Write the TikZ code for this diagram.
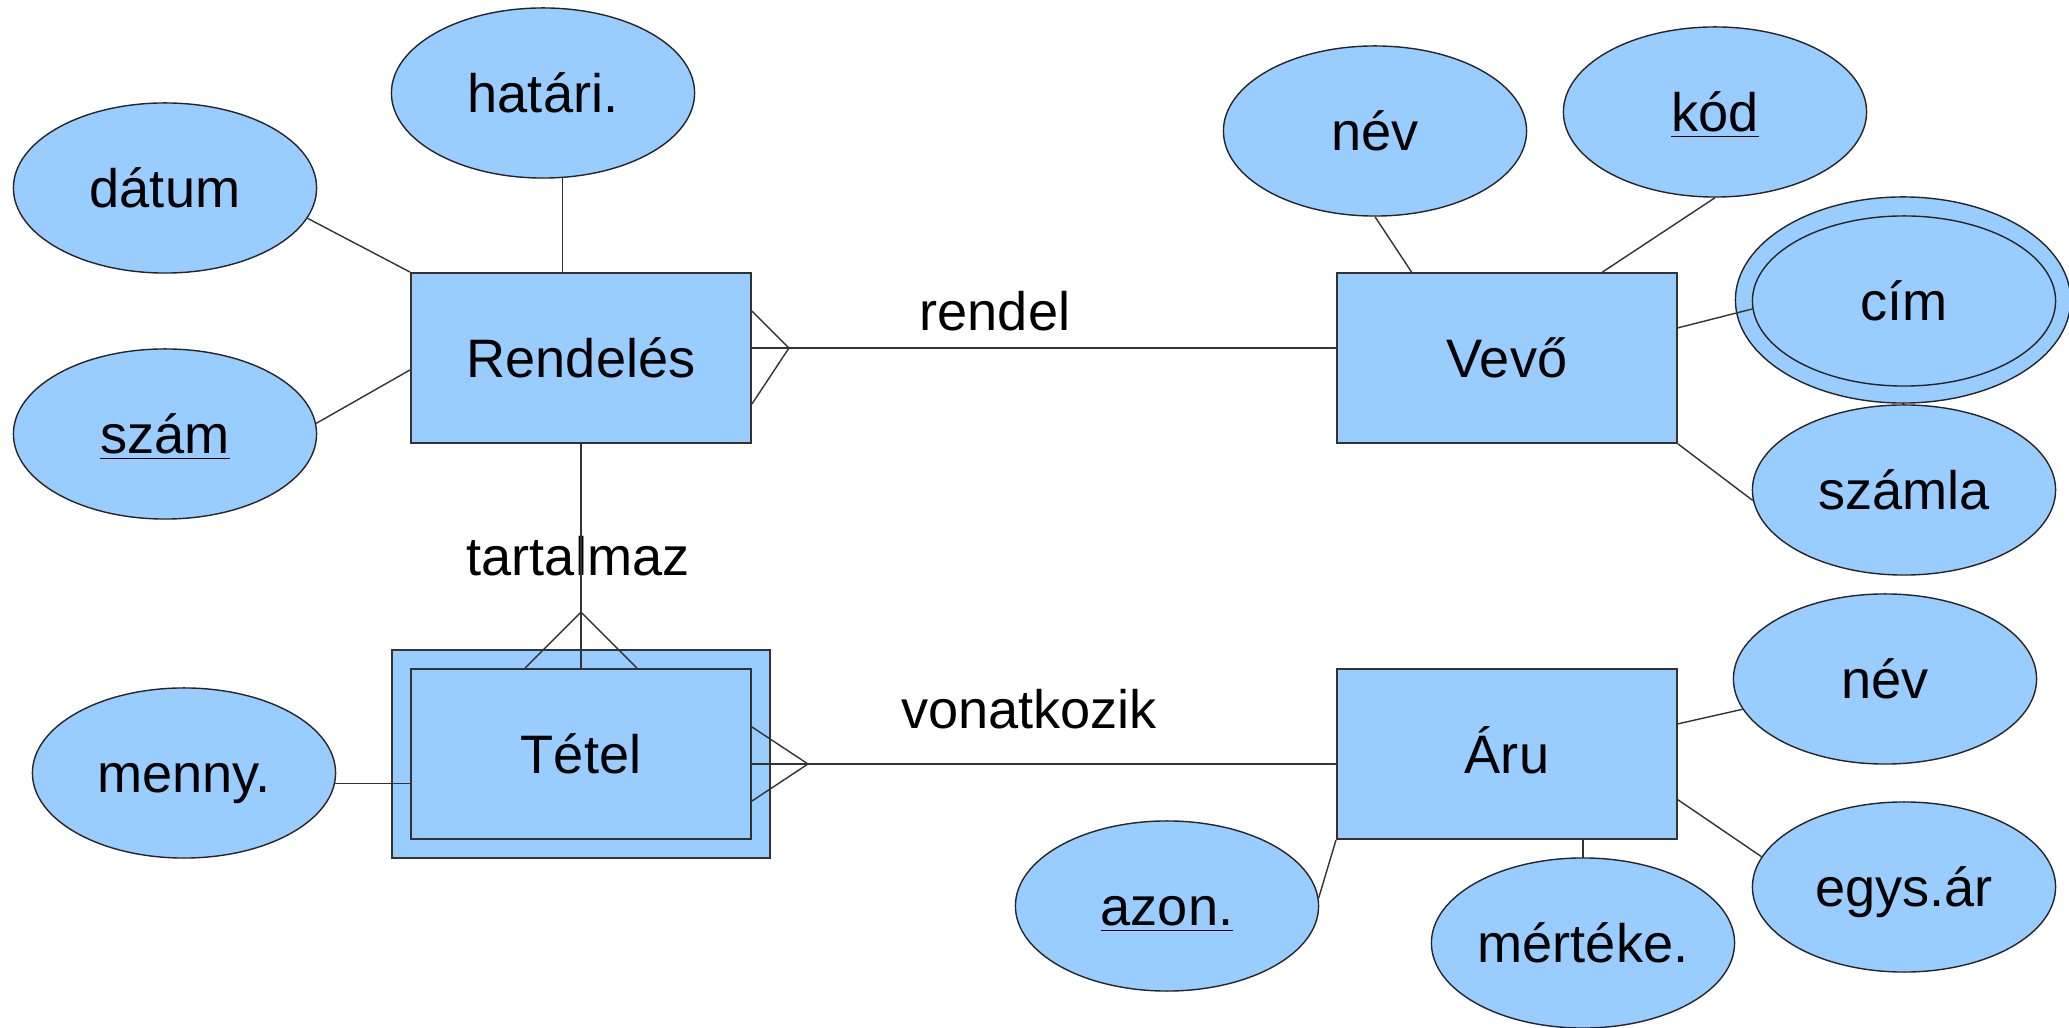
\documentclass[tikz,border=0pt]{standalone}
\usepackage{fontspec}
\setmainfont{Liberation Sans}
\usetikzlibrary{shapes.geometric,calc}
\definecolor{kek}{HTML}{99CCFF}

\begin{document}
\begin{tikzpicture}[x=0.01cm,y=-0.01cm,
	every node/.style={inner sep=0pt, font=\fontsize{15.4}{18}\selectfont, text height=11pt, text depth=0pt},
	entitas/.style={draw=black!80, fill=kek, line width=0.5pt, minimum width=3.4cm, minimum height=1.7cm},
	tulajdonsag/.style={ellipse, draw=black!85, fill=kek, line width=0.4pt, minimum width=3.03cm, minimum height=1.7cm},
	vonal/.style={draw=black!80, line width=0.4pt}]
	\useasboundingbox (0,0) rectangle (2069,1028);
	% egyedek
	\node[entitas] (rendeles) at (581,358) {Rendelés};
	\node[entitas] (vevo) at (1507,358) {Vevő};
	\node[entitas, minimum width=3.78cm, minimum height=2.08cm] (tetelkulso) at (581,754) {};
	\node[entitas] (tetel) at (581,754) {Tétel};
	\node[entitas] (aru) at (1507,754) {Áru};
	% tulajdonsagok
	\node[tulajdonsag] (hatari) at (543,93) {határi.};
	\node[tulajdonsag] (datum) at (165,188) {dátum};
	\node[tulajdonsag] (szam) at (165,434) {\underline{szám}};
	\node[tulajdonsag] (nev) at (1375,131) {név};
	\node[tulajdonsag] (kod) at (1715,112) {\underline{kód}};
	\node[tulajdonsag, minimum width=3.35cm, minimum height=2.06cm] (cimkulso) at (1903,300) {};
	\node[tulajdonsag] (cim) at (1904,301) {cím};
	\node[tulajdonsag] (szamla) at (1904,490) {számla};
	\node[tulajdonsag] (menny) at (184,773) {menny.};
	\node[tulajdonsag] (nevaru) at (1885,679) {név};
	\node[tulajdonsag] (egysar) at (1904,887) {egys.ár};
	\node[tulajdonsag] (azon) at (1167,906) {\underline{azon.}};
	\node[tulajdonsag] (mertek) at (1583,943) {mértéke.};
	% kapcsolatok nevei
	\node (rendel) at (995,311) {rendel};
	\node (tartalmaz) at (578,556) {tartalmaz};
	\node (vonatkozik) at (1029,709) {vonatkozik};
	% vonalak
	\draw[vonal] (hatari.-77) -- (hatari.-77 |- rendeles.north);
	\draw[vonal] (datum.-12) -- (rendeles.north west);
	\draw[vonal] (szam.4) -- (rendeles.184);
	\coordinate (rcsucs) at ($(rendeles.east)+(37,-10)$);
	\draw[vonal] (rendeles.east |- rcsucs) -- (vevo.west |- rcsucs);
	\draw[vonal] ($(rendeles.east)+(0,-47)$) -- (rcsucs) -- ($(rendeles.east)+(0,46)$);
	\coordinate (tcsucs) at ($(tetel.north)+(0,-56)$);
	\draw[vonal] (rendeles.south) -- (tetel.north);
	\draw[vonal] ($(tetel.north)+(-56,0)$) -- (tcsucs) -- ($(tetel.north)+(56,0)$);
	\coordinate (vcsucs) at ($(tetel.east)+(56,10)$);
	\draw[vonal] (tetel.east |- vcsucs) -- (aru.west |- vcsucs);
	\draw[vonal] ($(tetel.east)+(0,-27)$) -- (vcsucs) -- ($(tetel.east)+(0,47)$);
	\draw[vonal] (menny.-4) -- (menny.-4 -| tetel.west);
	\draw[vonal] (nev.south) -- (vevo.138);
	\draw[vonal] (kod.south) -- (vevo.42);
	\draw[vonal] (vevo.10) -- (cim.183);
	\draw[vonal] (vevo.south east) -- (szamla.184);
	\draw[vonal] (aru.10) -- (nevaru.192);
	\draw[vonal] (aru.-15) -- (egysar.168);
	\draw[vonal] (aru.south west) -- (azon.3);
	\draw[vonal] (mertek.north) -- (mertek.north |- aru.south);
\end{tikzpicture}
\end{document}
